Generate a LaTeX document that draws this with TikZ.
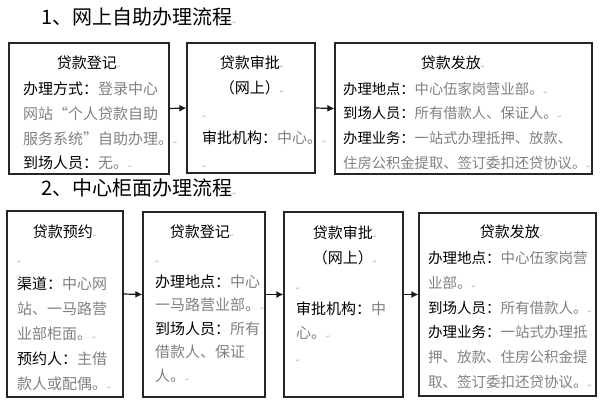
\documentclass[tikz,border=0pt]{standalone}
\usepackage{fontspec}
\setmainfont{Noto Sans CJK SC}
\newfontfamily\markfont{DejaVu Sans}
\usetikzlibrary{arrows.meta}

% label in black, value text stays gray
\newcommand\lab[1]{\textcolor{black}{#1}}
% small return mark left in the text
\newcommand\ret{\vphantom{中}{\markfont\fontsize{5}{5}\selectfont\textcolor{black!35}{↵}}}

\tikzset{
  box/.style={draw=black!85, line width=1.2pt, inner sep=0pt},
  txt/.style={anchor=north west, inner sep=0pt, align=left, text=black!50, font=\fontsize{15}{24.6}\selectfont},
  ttl/.style={anchor=north, inner sep=0pt, align=center, text=black, font=\fontsize{15}{25}\selectfont},
  head/.style={anchor=west, inner sep=0pt, font=\fontsize{20}{20}\selectfont},
  arr/.style={-{Latex[length=7pt,width=7pt]}, line width=1.2pt, black!90}
}

\begin{document}
\begin{tikzpicture}[x=1pt,y=-1pt]
\useasboundingbox (0,0) rectangle (600,400);

% headings
\node[head] (h1) at (41,17) {1、网上自助办理流程\ret};
\node[head] (h2) at (41,188) {2、中心柜面办理流程\ret};

% row 1: online
\node[box, minimum width=160pt, minimum height=131pt] (a) at (89,108.5) {};
\node[box, minimum width=128pt, minimum height=130pt] (b) at (251,108) {};
\node[box, minimum width=257pt, minimum height=131pt] (c) at (463.5,108.5) {};

\node[ttl] (a-t) at (89,56) {贷款登记\ret};
\node[txt] (a-b) at (23,82) {\lab{办理方式：}登录中心\\
  网站“个人贷款自助\\
  服务系统”自助办理。\ret\\
  \lab{到场人员：}无。\ret};

\node[ttl] (b-t) at (252,56) {贷款审批\ret\\（网上）\ret};
\node[txt] (b-b) at (202,106) {\ret\\
  \lab{审批机构：}中心。\ret\\
  \ret};

\node[ttl] (c-t) at (453,56) {贷款发放\ret};
\node[txt, font=\fontsize{14.3}{24.6}\selectfont] (c-b) at (343,82) {\lab{办理地点：}中心伍家岗营业部。\ret\\
  \lab{到场人员：}所有借款人、保证人。\ret\\
  \lab{办理业务：}一站式办理抵押、放款、\\
  住房公积金提取、签订委扣还贷协议。\ret};

\draw[arr] (a.east) -- (b.west);
\draw[arr] (b.east) -- (c.west);

% row 2: counter
\node[box, minimum width=116pt, minimum height=186pt] (d) at (65,304) {};
\node[box, minimum width=122pt, minimum height=185pt] (e) at (204,304.5) {};
\node[box, minimum width=119pt, minimum height=185pt] (f) at (343.5,304.5) {};
\node[box, minimum width=177pt, minimum height=183pt] (g) at (507.5,304.5) {};

\node[ttl] (d-t) at (65,225) {贷款预约\ret};
\node[txt, font=\fontsize{15}{25.2}\selectfont] (d-b) at (17,251) {\ret\\
  \lab{渠道：}中心网\\
  站、一马路营\\
  业部柜面。\ret\\
  \lab{预约人：}主借\\
  款人或配偶。\ret};

\node[ttl] (e-t) at (202,225) {贷款登记\ret};
\node[txt, font=\fontsize{15}{23.5}\selectfont] (e-b) at (155,251) {\ret\\
  \lab{办理地点：}中心\\
  一马路营业部。\ret\\
  \lab{到场人员：}所有\\
  借款人、保证\\
  人。\ret};

\node[ttl] (f-t) at (345,226) {贷款审批\ret\\（网上）\ret};
\node[txt, font=\fontsize{15}{24}\selectfont] (f-b) at (296,278) {\ret\\
  \lab{审批机构：}中\\
  心。\ret\\
  \ret};

\node[ttl] (g-t) at (512,225) {贷款发放\ret};
\node[txt, font=\fontsize{14.5}{24.8}\selectfont] (g-b) at (428,251) {\lab{办理地点：}中心伍家岗营\\
  业部。\ret\\
  \lab{到场人员：}所有借款人。\ret\\
  \lab{办理业务：}一站式办理抵\\
  押、放款、住房公积金提\\
  取、签订委扣还贷协议。\ret};

\draw[arr] ([yshift=10pt]d.east) -- ([yshift=10pt]e.west);
\draw[arr] ([yshift=10pt]e.east) -- ([yshift=10pt]f.west);
\draw[arr] ([yshift=10pt]f.east) -- ([yshift=10pt]g.west);
\end{tikzpicture}
\end{document}
